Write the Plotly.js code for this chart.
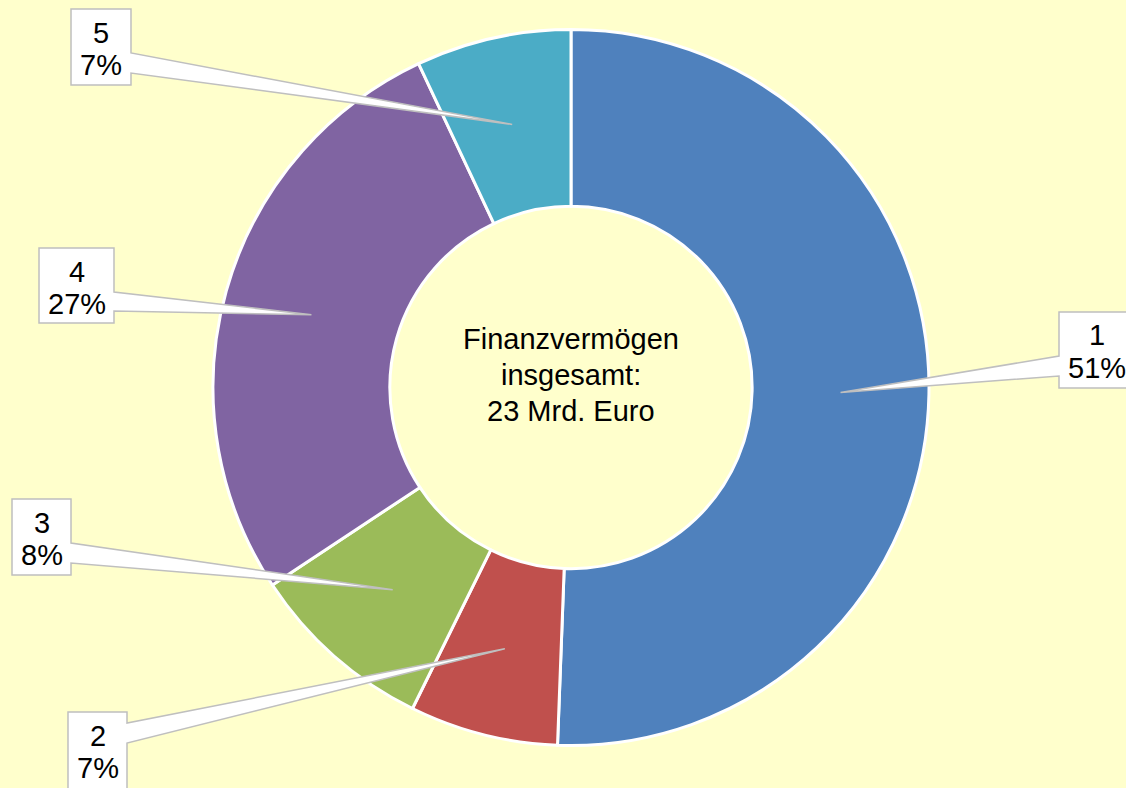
<!DOCTYPE html>
<html>
<head>
<meta charset="utf-8">
<script src="https://cdn.plot.ly/plotly-3.0.1.min.js"></script>
<style>html,body{margin:0;padding:0;background:#FFFFCC;}#chart{width:1126px;height:788px;}</style>
</head>
<body>
<div id="chart"></div>
<script>
// ---- data ----
const labels = ['1', '2', '3', '4', '5'];
const values = [50.6, 6.7, 8.4, 27.3, 7.0];
const colors = ['#4F81BD', '#C0504D', '#9BBB59', '#8064A2', '#4BACC6'];
const centerLines = ['Finanzvermögen', 'insgesamt:', '23 Mrd. Euro'];

// ---- layout config (pixels) ----
const W = 1126, H = 788;
const domX = [213 / W, 929 / W];
const domY = [1 - 745.5 / H, 1 - 29.5 / H];
const hole = 0.506;
// label callout boxes: position of box and of the wedge base on the box edge
const boxes = [
  {x0: 1059, y0: 312, x1: 1136, y1: 388, side: 'left',  b0: 356, b1: 376},
  {x0: 68,   y0: 712, x1: 127,  y1: 789, side: 'right', b0: 723, b1: 743},
  {x0: 12,   y0: 499, x1: 71,   y1: 575, side: 'right', b0: 543, b1: 563},
  {x0: 39,   y0: 248, x1: 114,  y1: 323, side: 'right', b0: 292, b1: 311},
  {x0: 71,   y0: 9,   x1: 131,  y1: 85,  side: 'right', b0: 53,  b1: 73}
];

const font = 'Liberation Sans, Arial, sans-serif';
const px = x => x / W;
const py = y => 1 - y / H;

// pie geometry derived from domain
const cx = W * (domX[0] + domX[1]) / 2;
const cy = H * (1 - (domY[0] + domY[1]) / 2);
const R = Math.min(W * (domX[1] - domX[0]), H * (domY[1] - domY[0])) / 2;
const rTip = R * (1 + hole) / 2;

const total = values.reduce((a, b) => a + b, 0);
let cum = 0;
const shapes = [];
const annotations = [];
values.forEach((v, i) => {
  const mid = (cum + v / 2) / total;
  cum += v;
  const ang = mid * 2 * Math.PI;
  const tx = cx + rTip * Math.sin(ang);
  const ty = cy - rTip * Math.cos(ang);
  const b = boxes[i];
  let pts;
  if (b.side === 'right') {
    pts = [[b.x0, b.y0], [b.x1, b.y0], [b.x1, b.b0], [tx, ty], [b.x1, b.b1], [b.x1, b.y1], [b.x0, b.y1]];
  } else {
    pts = [[b.x0, b.y0], [b.x1, b.y0], [b.x1, b.y1], [b.x0, b.y1], [b.x0, b.b1], [tx, ty], [b.x0, b.b0]];
  }
  const path = 'M ' + pts.map(p => px(p[0]).toFixed(5) + ',' + py(p[1]).toFixed(5)).join(' L ') + ' Z';
  shapes.push({
    type: 'path', xref: 'paper', yref: 'paper', path: path, layer: 'above',
    fillcolor: '#FFFFFF', line: {color: '#BFBFBF', width: 1.5}
  });
  const bx = (b.x0 + Math.min(b.x1, b.x0 + 75)) / 2;
  const pct = Math.round(v / total * 100) + '%';
  annotations.push({
    xref: 'paper', yref: 'paper', x: px(bx), y: py(b.y0 + 23.5),
    xanchor: 'center', yanchor: 'middle', showarrow: false,
    text: labels[i], font: {family: font, size: 29, color: '#000'}
  });
  annotations.push({
    xref: 'paper', yref: 'paper', x: px(bx), y: py(b.y0 + 55.5),
    xanchor: 'center', yanchor: 'middle', showarrow: false,
    text: pct, font: {family: font, size: 29, color: '#000'}
  });
});

const centerOffsets = [-49, -13, 23];
centerLines.forEach((t, k) => {
  annotations.push({
    xref: 'paper', yref: 'paper', x: px(cx), y: py(cy + centerOffsets[k]),
    xanchor: 'center', yanchor: 'middle', showarrow: false,
    text: t, font: {family: font, size: 29, color: '#000'}
  });
});

const trace = {
  type: 'pie',
  labels: labels,
  values: values,
  sort: false,
  direction: 'clockwise',
  rotation: 0,
  hole: hole,
  domain: {x: domX, y: domY},
  marker: {colors: colors, line: {color: '#FFFFFF', width: 3}},
  textinfo: 'none',
  hoverinfo: 'none',
  showlegend: false
};

const layout = {
  width: W, height: H,
  margin: {l: 0, r: 0, t: 0, b: 0},
  paper_bgcolor: '#FFFFCC',
  plot_bgcolor: '#FFFFCC',
  showlegend: false,
  shapes: shapes,
  annotations: annotations
};

Plotly.newPlot('chart', [trace], layout, {displayModeBar: false, staticPlot: true});
</script>
</body>
</html>
